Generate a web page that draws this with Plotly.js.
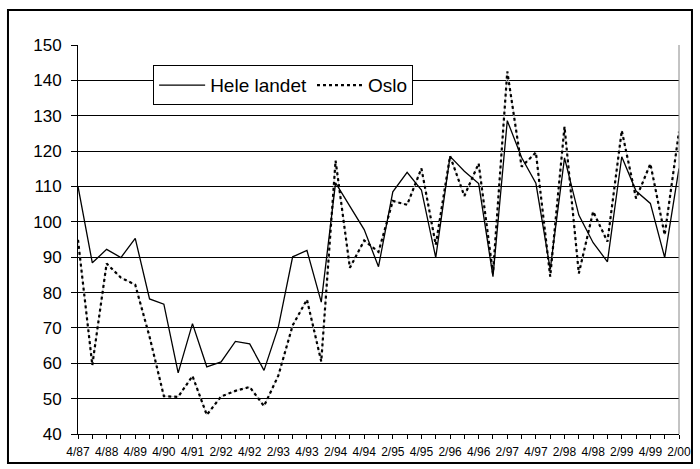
<!DOCTYPE html>
<html>
<head>
<meta charset="utf-8">
<script src="https://cdn.plot.ly/plotly-3.0.1.min.js"></script>
<style>
html,body{margin:0;padding:0;background:#fff;}
#chart{width:700px;height:469px;}
</style>
</head>
<body>
<div id="chart"></div>
<script>
const categories = ["4/87","2/88","4/88","2/89","4/89","2/90","4/90","2/91","4/91",
  "1/92","2/92","3/92","4/92","1/93","2/93","3/93","4/93","1/94","2/94","3/94","4/94",
  "1/95","2/95","3/95","4/95","1/96","2/96","3/96","4/96","1/97","2/97","3/97","4/97",
  "1/98","2/98","3/98","4/98","1/99","2/99","3/99","4/99","1/00","2/00"];
const heleLandet = [110, 88.4, 92.2, 89.9, 95.3, 78.2, 76.7, 57.3, 71.2, 59.0, 60.4, 66.2, 65.5, 58.0, 70.2, 90.1, 91.9, 77.3,
  111.0, 104.3, 97.8, 87.3, 108.5, 114.0, 109.0, 89.9, 118.5, 114.3, 110.8, 84.5, 128.6, 118.2, 110.9, 86.6, 118.1,
  101.9, 94.1, 88.7, 118.4, 108.7, 105.2, 89.9, 115.1];
const oslo = [94.9, 59.5, 88.2, 84.2, 82.2, 67.5, 50.7, 50.5, 56.4, 45.4, 50.6, 52.2, 53.3, 47.9, 56.5, 70.7, 78.0, 60.5,
  117.3, 87.0, 94.7, 91.5, 105.9, 104.8, 115.1, 93.5, 118.6, 107.3, 116.5, 85.4, 142.5, 115.6, 119.6, 84.5, 126.9,
  85.4, 102.9, 94.4, 125.8, 106.6, 116.4, 96.3, 125.5];
const tickLabels = categories.map((c, i) => (i % 2 === 0 ? c : ""));
const seriesNames = ["Hele landet", "Oslo"];

const traces = [
  {x: categories, y: oslo, type: "scatter", mode: "lines", showlegend: false, hoverinfo: "skip",
   line: {color: "#c8c8c8", width: 0.8}},
  {x: categories, y: heleLandet, type: "scatter", mode: "lines", name: seriesNames[0],
   line: {color: "#000", width: 1.3}},
  {x: categories, y: oslo, type: "scatter", mode: "lines", name: seriesNames[1],
   line: {color: "#000", width: 2.2, dash: "dot"}}
];

const layout = {
  width: 700, height: 469,
  margin: {l: 78, r: 21, t: 45, b: 35},
  paper_bgcolor: "#fff", plot_bgcolor: "#fff",
  font: {family: "Liberation Sans, Arial, sans-serif", color: "#000"},
  showlegend: true,
  legend: {
    orientation: "h", x: 0.125, xanchor: "left", y: 0.948, yanchor: "top",
    bgcolor: "#fff", bordercolor: "#000", borderwidth: 1,
    font: {size: 19, family: "Liberation Sans, Arial, sans-serif"},
    itemwidth: 46, traceorder: "normal", tracegroupgap: 0
  },
  xaxis: {
    type: "category", range: [0, categories.length - 1],
    tickmode: "array", tickvals: categories, ticktext: tickLabels,
    tickangle: 0, ticks: "outside", ticklen: 4, tickcolor: "#000", tickwidth: 1,
    ticklabelstandoff: 3,
    showline: true, linecolor: "#000", linewidth: 1,
    showgrid: false, zeroline: false,
    tickfont: {size: 12}
  },
  yaxis: {
    range: [40, 150], dtick: 10, tick0: 40,
    ticks: "outside", ticklen: 6, tickcolor: "#000", tickwidth: 1,
    ticklabelstandoff: 6,
    showline: true, linecolor: "#000", linewidth: 1,
    showgrid: true, gridcolor: "#000", gridwidth: 1, zeroline: false,
    tickfont: {size: 17}
  },
  shapes: [
    {type: "rect", xref: "paper", yref: "paper", x0: -0.1165, x1: 1.0216, y0: -0.0746, y1: 1.09,
     line: {color: "#000", width: 2}},
    {type: "line", xref: "paper", yref: "paper", x0: 1, x1: 1, y0: 0, y1: 1,
     line: {color: "#888", width: 1}}
  ]
};

Plotly.newPlot("chart", traces, layout, {displayModeBar: false, staticPlot: true});
</script>
</body>
</html>
